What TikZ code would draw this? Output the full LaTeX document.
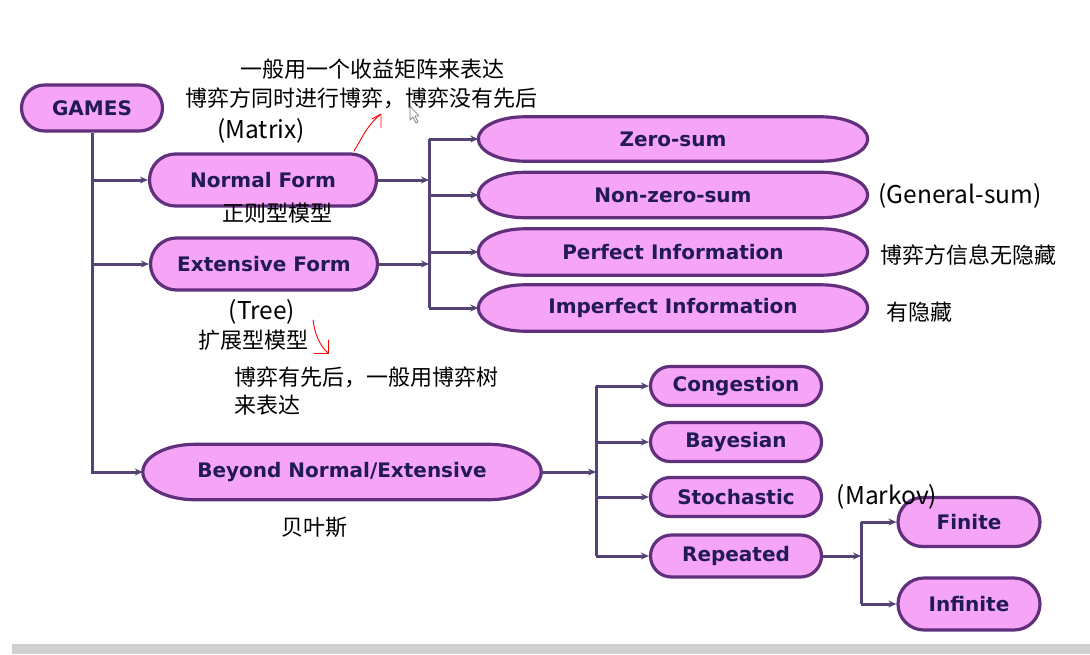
\documentclass[tikz,border=0pt]{standalone}
\usepackage{fontspec}
\usetikzlibrary{shapes.misc,arrows.meta,calc}
\pgfdeclarelayer{bg}
\pgfsetlayers{bg,main}
\newfontfamily\nodefont{DejaVu Sans}
\newfontfamily\cjk{Noto Sans CJK SC}
\definecolor{nodefill}{RGB}{246,165,246}
\definecolor{nodeborder}{RGB}{96,48,124}
\definecolor{nodetext}{RGB}{34,26,84}
\definecolor{linecol}{RGB}{84,68,118}
\definecolor{stripgray}{RGB}{208,208,208}
\tikzset{
  boxfont/.style={text=nodetext, font=\nodefont\bfseries\fontsize{20}{24}\selectfont},
  gbox/.style={rounded rectangle, draw=nodeborder, fill=nodefill, line width=3.2pt,
    inner sep=0pt, boxfont},
  ebox/.style={rectangle, inner sep=0pt, boxfont},
  eshape/.style={draw=nodeborder, fill=nodefill, line width=3.2pt},
  conn/.style={draw=linecol, line width=3pt},
  arr/.style={conn, -{Stealth[length=8pt,width=7pt]}},
  note/.style={inner sep=0pt, text=black, font=\cjk\fontsize{22}{26}\selectfont},
  latnote/.style={note, font=\cjk\fontsize{24.5}{28}\selectfont},
  redmark/.style={draw=red, line width=0.9pt, line cap=round, line join=round}
}
\begin{document}
\begin{tikzpicture}[x=1pt,y=-1pt]
\useasboundingbox (0,0) rectangle (1090,654);
\begin{pgfonlayer}{bg}
\fill[white] (0,0) rectangle (1090,654);
\end{pgfonlayer}
% bottom strip
\fill[stripgray] (12,644) rectangle (1090,654);

% nodes
\node[gbox, minimum width=141, minimum height=46] (games) at (92,108) {GAMES};
\node[gbox, minimum width=227, minimum height=52] (normal) at (263,180) {Normal Form};
\node[gbox, minimum width=227, minimum height=52] (extensive) at (264,264) {Extensive Form};
\node[ebox, minimum width=389, minimum height=44] (zero) at (673,139) {Zero-sum};
\node[ebox, minimum width=389, minimum height=45] (nonzero) at (673,195) {Non-zero-sum};
\node[ebox, minimum width=389, minimum height=46] (perfect) at (673,252) {Perfect Information};
\node[ebox, minimum width=389, minimum height=46] (imperfect) at (673,308) {Imperfect Information};
\node[ebox, minimum width=398, minimum height=55] (beyond) at (342,472) {Beyond Normal/Extensive};
\node[gbox, minimum width=171, minimum height=39] (congestion) at (736,386) {Congestion};
\node[gbox, minimum width=171, minimum height=39] (bayesian) at (736,442) {Bayesian};
\node[gbox, minimum width=171, minimum height=39] (stochastic) at (736,497) {Stochastic};
\node[gbox, minimum width=171, minimum height=42] (repeated) at (736,556) {Repeated};
\node[gbox, minimum width=142, minimum height=49] (finite) at (969,522) {Finite};
\node[gbox, minimum width=142, minimum height=52] (infinite) at (969,604) {Infinite};

% elliptic-ended outlines behind the long nodes
\begin{pgfonlayer}{bg}
\foreach \nm/\ra in {zero/46,nonzero/46,perfect/46,imperfect/46,beyond/52}{
  \draw[eshape] let \p1=(\nm.north west), \p2=(\nm.south east), \n1={(\y1-\y2)/2} in
    (\x1+\ra pt,\y1) -- (\x2-\ra pt,\y1)
    arc[start angle=90, end angle=-90, x radius=\ra pt, y radius=\n1]
    -- (\x1+\ra pt,\y2)
    arc[start angle=270, end angle=90, x radius=\ra pt, y radius=\n1] -- cycle;
}
\end{pgfonlayer}

% junction coordinates
\coordinate (j1) at (429,180);
\coordinate (j2) at (429,264);
\coordinate (j3) at (596,472);
\coordinate (j4) at (861,556);

% trunk from GAMES
\draw[arr] (games.south) |- (beyond.west);
\draw[arr] (games.south |- normal.west) -- (normal.west);
\draw[arr] (games.south |- extensive.west) -- (extensive.west);

% Normal / Extensive bus
\draw[arr] (normal.east) -- (j1);
\draw[arr] (extensive.east) -- (j2);
\draw[conn] (j1 |- zero.west) -- (j1 |- imperfect.west);
\foreach \nm in {zero,nonzero,perfect,imperfect}
  \draw[arr] (j1 |- \nm.west) -- (\nm.west);

% Beyond bus
\draw[arr] (beyond.east) -- (j3);
\draw[conn] (j3 |- congestion.west) -- (j3 |- repeated.west);
\foreach \nm in {congestion,bayesian,stochastic,repeated}
  \draw[arr] (j3 |- \nm.west) -- (\nm.west);

% Repeated bus
\draw[arr] (repeated.east) -- (j4);
\draw[conn] (j4 |- finite.west) -- (j4 |- infinite.west);
\draw[arr] (j4 |- finite.west) -- (finite.west);
\draw[arr] (j4 |- infinite.west) -- (infinite.west);

% annotations
\node[note] (t1) at (372,69) {一般用一个收益矩阵来表达};
\node[note] (t2) at (361,98) {博弈方同时进行博弈，博弈没有先后};
\node[latnote] (t3) at (261,131) {(Matrix)};
\node[note] (t4) at (277,213) {正则型模型};
\node[latnote] (t5) at (262,312) {(Tree)};
\node[note] (t6) at (253,340) {扩展型模型};
\node[note, anchor=west] (t7) at (234,377) {博弈有先后，一般用博弈树};
\node[note, anchor=west] (t8) at (234,405) {来表达};
\node[note] (t9) at (314,527) {贝叶斯};
\node[latnote] (t10) at (960,196) {(General-sum)};
\node[note, anchor=west] (t11) at (880,255) {博弈方信息无隐藏};
\node[note, anchor=west] (t12) at (886,312) {有隐藏};
\node[latnote] (t13) at (887,497) {(Markov)};

% red hand-drawn marks
\draw[redmark] (354,151) .. controls (362,138) and (368,124) .. (380,115);
\draw[redmark] (372,119) -- (381,114) -- (381,128);
\draw[redmark] (313,320) .. controls (315,335) and (320,346) .. (328,353);
\draw[redmark] (328,340) -- (328,353) -- (314,353);

% mouse pointer
\draw[gray, fill=white, line width=0.7pt, line join=round]
  (410,106) -- (410,120) -- (413,117) -- (416,123) -- (418,122) -- (415,116) -- (419,116) -- cycle;
\end{tikzpicture}
\end{document}
